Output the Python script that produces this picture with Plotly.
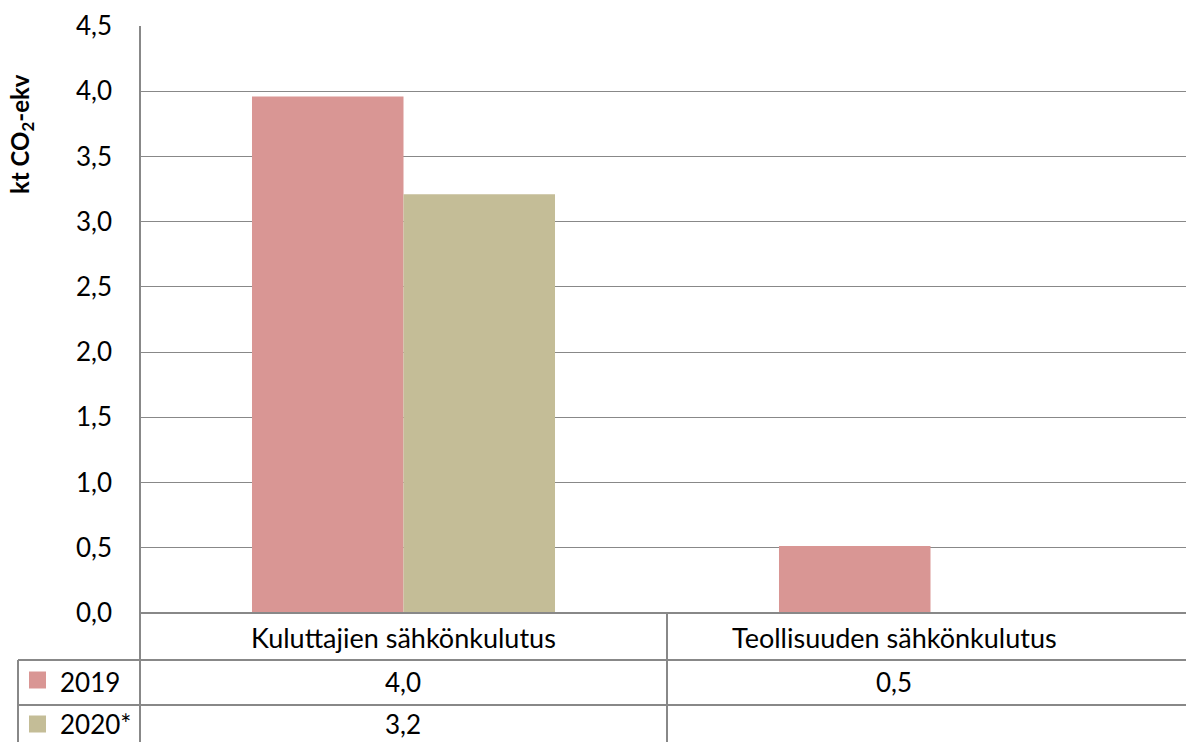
import plotly.graph_objects as go

categories = ["Kuluttajien sähkönkulutus", "Teollisuuden sähkönkulutus"]
series_names = ["2019", "2020*"]
values_2019 = [3.96, 0.514]
values_2020 = [3.21, None]
colors = ["#D99694", "#C4BD97"]

W, H = 1186, 742
L, R, T, B = 140, 0, 26, 129
PW, PH = W - L - R, H - T - B
FONT = "Lato"
FS = 26
GRID = "#888888"

def px(x):
    return (x - L) / PW

def py(y):
    return (H - B - y) / PH

def fmt(v):
    return "" if v is None else f"{v:.1f}".replace(".", ",")

xpos = list(range(len(categories)))
fig = go.Figure()
for name, vals, col in zip(series_names, [values_2019, values_2020], colors):
    fig.add_trace(go.Bar(x=xpos, y=vals, name=name, marker=dict(color=col, line=dict(width=0)),
                         hoverinfo="skip"))

fig.update_layout(
    width=W, height=H, margin=dict(l=L, r=R, t=T, b=B, pad=0),
    paper_bgcolor="white", plot_bgcolor="white",
    barmode="group", bargap=0.425, bargroupgap=0,
    showlegend=False, separators=", ",
    font=dict(family=FONT, size=FS, color="black"),
    xaxis=dict(range=[-0.5, -0.5 + PW / 527], showticklabels=False, showgrid=False,
               zeroline=False, showline=False, ticks=""),
    yaxis=dict(range=[0, 4.5], dtick=0.5, tickformat=".1f", showgrid=True, gridcolor=GRID,
               gridwidth=1.3, zeroline=False, showline=False, ticks="", ticklabelstandoff=27,
               tickfont=dict(family=FONT, size=FS, color="black")),
)

line = dict(color=GRID, width=2)
shapes = []
shapes.append(dict(type="line", xref="paper", yref="paper", x0=px(140), x1=px(140), y0=py(26), y1=py(742), line=line))
shapes.append(dict(type="line", xref="paper", yref="paper", x0=px(140), x1=1, y0=py(613), y1=py(613), line=line))
shapes.append(dict(type="line", xref="paper", yref="paper", x0=px(18), x1=1, y0=py(660), y1=py(660), line=line))
shapes.append(dict(type="line", xref="paper", yref="paper", x0=px(18), x1=1, y0=py(705), y1=py(705), line=line))
shapes.append(dict(type="line", xref="paper", yref="paper", x0=px(18), x1=px(18), y0=py(660), y1=py(742), line=line))
shapes.append(dict(type="line", xref="paper", yref="paper", x0=px(667), x1=px(667), y0=py(613), y1=py(742), line=line))
for i, col in enumerate(colors):
    yc = [680, 724][i]
    shapes.append(dict(type="rect", xref="paper", yref="paper", x0=px(29), x1=px(46),
                       y0=py(yc + 8.5), y1=py(yc - 8.5), fillcolor=col, line=dict(width=0)))
fig.update_layout(shapes=shapes)

ann = []
ann.append(dict(text="<b>kt CO<sub>2</sub>-ekv</b>", textangle=-90, xref="paper", yref="paper",
                x=px(21), y=py(134), xanchor="center", yanchor="middle", showarrow=False,
                font=dict(family=FONT, size=24, color="black")))
cell_centers = [403, 894]
for cx, cat in zip(cell_centers, categories):
    ann.append(dict(text=cat, xref="paper", yref="paper", x=px(cx), y=py(637), showarrow=False,
                    xanchor="center", yanchor="middle", font=dict(size=27)))
row_y = [682, 724]
for ry, name, vals in zip(row_y, series_names, [values_2019, values_2020]):
    ann.append(dict(text=name, xref="paper", yref="paper", x=px(58), y=py(ry), showarrow=False,
                    xanchor="left", yanchor="middle"))
    for cx, v in zip(cell_centers, vals):
        if v is not None:
            ann.append(dict(text=fmt(v), xref="paper", yref="paper", x=px(cx), y=py(ry),
                            showarrow=False, xanchor="center", yanchor="middle"))
fig.update_layout(annotations=ann)

fig.write_html("out.html", config={"displayModeBar": False},
               post_script="document.body.style.margin='0';document.body.style.overflow='hidden';")
